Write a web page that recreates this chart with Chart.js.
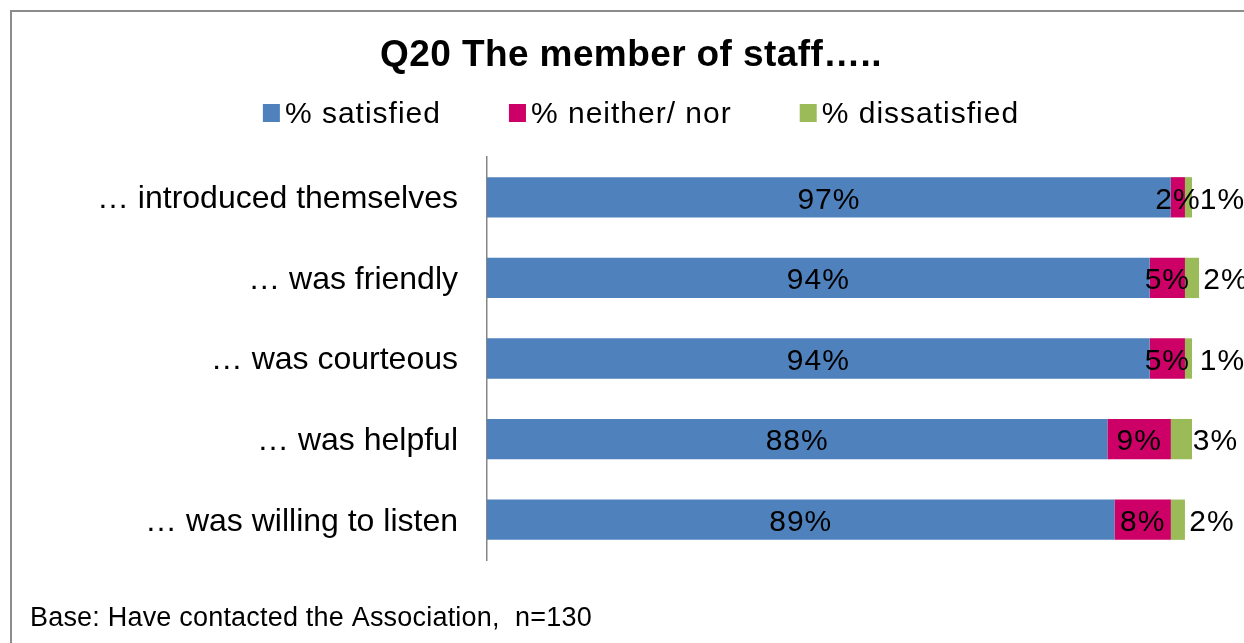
<!DOCTYPE html>
<html>
<head>
<meta charset="utf-8">
<script src="https://cdn.jsdelivr.net/npm/chart.js@4/dist/chart.umd.min.js"></script>
<style>
  html, body { margin: 0; padding: 0; background: #fff; overflow: hidden; }
  #wrap { position: relative; width: 1244px; height: 643px; }
</style>
</head>
<body>
<div id="wrap"><canvas id="c" width="1244" height="643"></canvas></div>
<script>
// Survey results: Q20 "The member of staff....."
const categories = [
  '\u2026 introduced themselves',
  '\u2026 was friendly',
  '\u2026 was courteous',
  '\u2026 was helpful',
  '\u2026 was willing to listen'
];
const satisfied    = [97, 94, 94, 88, 89];
const neither      = [2, 5, 5, 9, 8];
const dissatisfied = [1, 2, 1, 3, 2];

const seriesNames  = ['% satisfied', '% neither/ nor', '% dissatisfied'];
const seriesColors = ['#4F81BD', '#CC0066', '#9BBB59'];

const chartTitle = 'Q20 The member of staff\u2026..';
const footnote   = 'Base: Have contacted the Association,  n=130';

const FONT = '"Liberation Sans", Arial, sans-serif';

// Frame, title, legend and base note drawn around the plot area
const decorations = {
  id: 'decorations',
  beforeDraw(chart) {
    const ctx = chart.ctx;
    ctx.save();
    ctx.fillStyle = '#ffffff';
    ctx.fillRect(0, 0, chart.width, chart.height);
    ctx.strokeStyle = '#8c8c8c';
    ctx.lineWidth = 2;
    ctx.strokeRect(11, 11, 1400, 800);
    ctx.restore();
  },
  afterDraw(chart) {
    const ctx = chart.ctx;
    ctx.save();
    // title
    ctx.fillStyle = '#000';
    ctx.font = 'bold 37px ' + FONT;
    ctx.letterSpacing = '0.4px';
    ctx.textAlign = 'center';
    ctx.textBaseline = 'alphabetic';
    ctx.fillText(chartTitle, 631, 66);

    // legend built from the datasets
    ctx.font = '30px ' + FONT;
    ctx.letterSpacing = '1px';
    ctx.textAlign = 'left';
    const boxW = 17, boxH = 18, boxGap = 5, itemGap = 68;
    const items = chart.data.datasets.map(ds => ({
      label: ds.label, color: ds.backgroundColor,
      w: boxW + boxGap + ctx.measureText(ds.label).width
    }));
    const total = items.reduce((s, it) => s + it.w, 0) + itemGap * (items.length - 1);
    let x = 641 - total / 2;
    items.forEach(it => {
      ctx.fillStyle = it.color;
      ctx.fillRect(x, 104, boxW, boxH);
      ctx.fillStyle = '#000';
      ctx.fillText(it.label, x + boxW + boxGap, 123);
      x += it.w + itemGap;
    });

    // base note
    ctx.font = '27px ' + FONT;
    ctx.letterSpacing = '0.2px';
    ctx.fillText(footnote, 30, 626);
    ctx.restore();
  }
};

// Percentage labels on each segment
const segmentLabels = {
  id: 'segmentLabels',
  afterDatasetsDraw(chart) {
    const ctx = chart.ctx;
    ctx.save();
    ctx.font = '30px ' + FONT;
    ctx.letterSpacing = '1px';
    ctx.fillStyle = '#000';
    ctx.textAlign = 'center';
    ctx.textBaseline = 'middle';
    chart.data.datasets.forEach((ds, di) => {
      const meta = chart.getDatasetMeta(di);
      meta.data.forEach((bar, i) => {
        const v = ds.data[i];
        let cx = (bar.x + bar.base) / 2;
        if (di === 2) cx += 34; // dissatisfied shown just outside the bar end
        ctx.fillText(v + '%', cx, bar.y + 3);
      });
    });
    ctx.restore();
  }
};

const makeSet = (label, data, color) => ({
  label, data,
  backgroundColor: color,
  borderWidth: 0,
  barPercentage: 0.5,
  categoryPercentage: 1.0,
  clip: false
});

new Chart(document.getElementById('c'), {
  type: 'bar',
  data: {
    labels: categories,
    datasets: [
      makeSet(seriesNames[0], satisfied, seriesColors[0]),
      makeSet(seriesNames[1], neither, seriesColors[1]),
      makeSet(seriesNames[2], dissatisfied, seriesColors[2])
    ]
  },
  options: {
    indexAxis: 'y',
    responsive: false,
    animation: false,
    devicePixelRatio: 1,
    layout: { padding: { left: 0, right: 52, top: 157, bottom: 83 } },
    plugins: {
      legend: { display: false },
      title: { display: false },
      tooltip: { enabled: false }
    },
    scales: {
      x: { type: 'linear', stacked: true, min: 0, max: 100, display: false },
      y: {
        stacked: true,
        grid: { display: false, drawTicks: false },
        border: { display: true, color: '#868686', width: 1.5 },
        ticks: { color: '#000', padding: 29, labelOffset: 2, font: { family: FONT, size: 32 } },
        afterFit(scale) { scale.width = 487; }
      }
    }
  },
  plugins: [decorations, segmentLabels]
});
</script>
</body>
</html>
